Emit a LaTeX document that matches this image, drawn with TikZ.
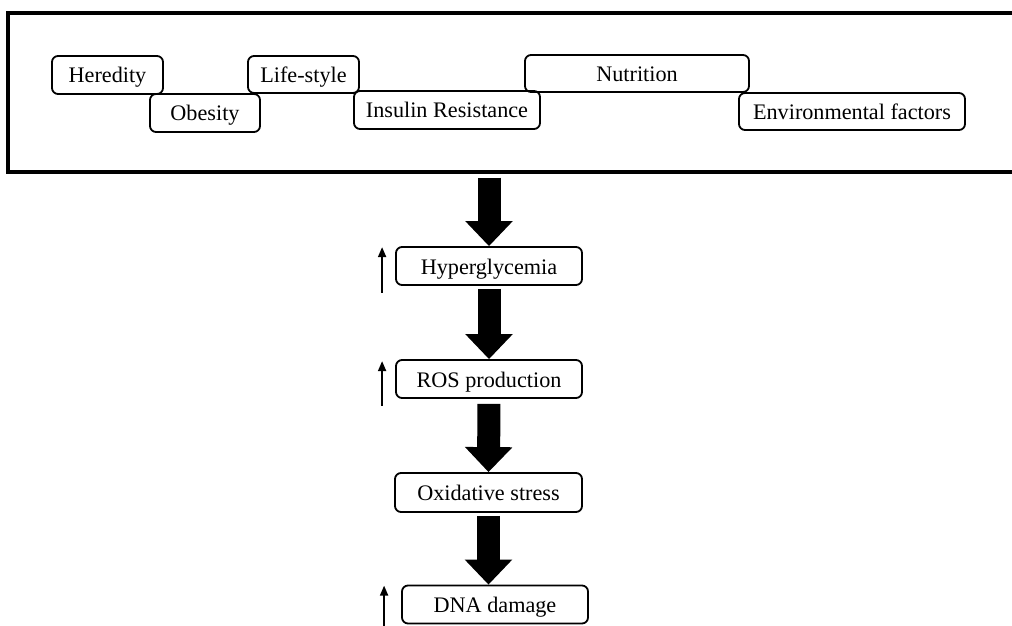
\documentclass[tikz,border=0pt]{standalone}
\usepackage{fontspec}
\setmainfont{Liberation Serif}
\usetikzlibrary{arrows.meta}
\tikzset{
  fbox/.style 2 args={draw, line width=0.9pt, rounded corners=3pt, inner sep=0pt,
    minimum width=#1*0.5pt, minimum height=#2*0.5pt,
    text height=8pt, text depth=0pt,
    font=\fontsize{11.1}{13}\selectfont},
  frame/.style={draw, line width=1.6pt, inner sep=0pt},
  bigarrow/.style={line width=11.5pt, -{Triangle[width=23pt,length=12.5pt]}},
  uparrow/.style={line width=0.9pt, -{Triangle[width=4pt,length=5pt]}}
}
\begin{document}
\begin{tikzpicture}[x=0.5pt,y=-0.5pt]
\useasboundingbox (0,0) rectangle (1012,626);
\node[frame, minimum width=1010*0.5pt, minimum height=159*0.5pt] (frame) at (513,92.5) {};
% factor boxes
\node[fbox={111}{38}] (hered) at (107.5,75) {Heredity};
\node[fbox={110}{38}] (obes) at (205,113) {Obesity};
\node[fbox={111}{37}] (life) at (303.5,74.5) {Life-style};
\node[fbox={186}{38}] (insul) at (447,110) {Insulin Resistance};
\node[fbox={224}{37}] (nutr) at (637,73.5) {Nutrition};
\node[fbox={226}{37}] (env) at (852,111.5) {Environmental factors};
% chain
\node[fbox={186}{38}] (hyper) at (489,266) {Hyperglycemia};
\node[fbox={186}{38}] (ros) at (489,379) {ROS production};
\node[fbox={187}{39}] (oxid) at (488.5,492.5) {Oxidative stress};
\node[fbox={186}{38}] (dna) at (495,604.5) {DNA damage};
% big arrows
\draw[bigarrow] ([yshift=-2pt]frame.south -| hyper.north) -- (hyper.north);
\draw[bigarrow, shorten <=1.5pt] (hyper.south) -- (ros.north);
\draw[bigarrow, shorten <=2.5pt] (ros.south) -- (oxid.north);
\draw[bigarrow, shorten <=1.5pt] (oxid.south) -- (oxid.south |- dna.north);
% small up arrows
\draw[uparrow] ([xshift=-6.5pt,yshift=-3.5pt]hyper.south west) -- ([xshift=-6.5pt,yshift=-0.5pt]hyper.north west);
\draw[uparrow] ([xshift=-6.5pt,yshift=-3.5pt]ros.south west) -- ([xshift=-6.5pt,yshift=-1pt]ros.north west);
\draw[uparrow] ([xshift=-8.5pt,yshift=-3pt]dna.south west) -- ([xshift=-8.5pt,yshift=-0.5pt]dna.north west);
\end{tikzpicture}
\end{document}
